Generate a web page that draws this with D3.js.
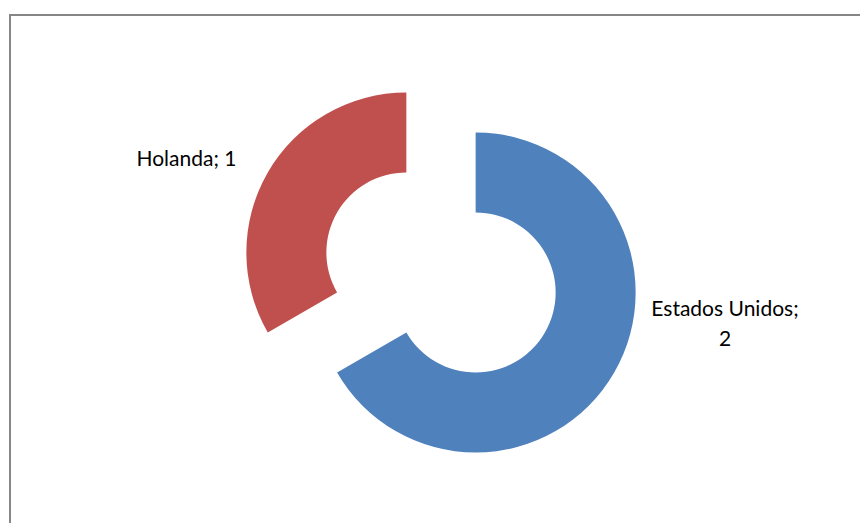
<!DOCTYPE html>
<html>
<head>
<meta charset="utf-8">
<script src="https://cdn.jsdelivr.net/npm/d3@7"></script>
<style>
  html, body { margin: 0; padding: 0; background: #fff; }
  svg { display: block; }
</style>
</head>
<body>
<svg id="chart" width="860" height="523"></svg>
<script>
// Donut chart data
const categories = ["Estados Unidos", "Holanda"];
const values = [2, 1];
const colors = ["#4F81BD", "#C0504D"];

const svg = d3.select("#chart");
const W = 860, H = 523;

// chart area frame
svg.append("rect")
  .attr("x", 10).attr("y", 15)
  .attr("width", W).attr("height", H)
  .attr("fill", "none")
  .attr("stroke", "#868686")
  .attr("stroke-width", 2);

const cx = 441, cy = 272.5;
const outerR = 160, innerR = 80, explode = 40;

const pie = d3.pie().sort(null).value(d => d.value);
const arcs = pie(categories.map((c, i) => ({ name: c, value: values[i], color: colors[i] })));
const arc = d3.arc().innerRadius(innerR).outerRadius(outerR);

const g = svg.append("g").attr("transform", `translate(${cx},${cy})`);

g.selectAll("path")
  .data(arcs)
  .join("path")
  .attr("d", arc)
  .attr("fill", d => d.data.color)
  .attr("transform", d => {
    const mid = (d.startAngle + d.endAngle) / 2;
    return `translate(${explode * Math.sin(mid)},${-explode * Math.cos(mid)})`;
  });

// data labels: "category; value"
const labelFont = "Lato, 'Open Sans', sans-serif";
const labelLayout = {
  "Estados Unidos": { x: 725, y: 316, lines: d => [d.data.name + ";", String(d.data.value)] },
  "Holanda": { x: 186.5, y: 166, lines: d => [d.data.name + "; " + d.data.value] }
};

arcs.forEach(d => {
  const L = labelLayout[d.data.name];
  const t = svg.append("text")
    .attr("x", L.x).attr("y", L.y)
    .attr("text-anchor", "middle")
    .attr("font-family", labelFont)
    .attr("font-size", 21)
    .attr("fill", "#000");
  L.lines(d).forEach((line, i) => {
    t.append("tspan").attr("x", L.x).attr("dy", i === 0 ? 0 : 30).text(line);
  });
});
</script>
</body>
</html>
